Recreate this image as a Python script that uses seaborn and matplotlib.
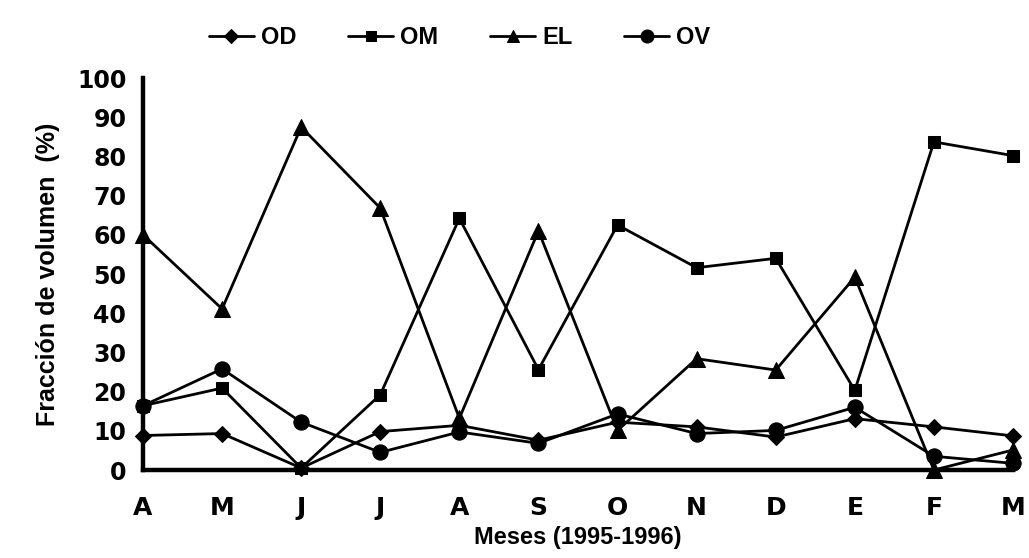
import matplotlib
matplotlib.use("Agg")
import matplotlib.pyplot as plt
import numpy as np
import pandas as pd
import seaborn as sns

months = ["A", "M", "J", "J", "A", "S", "O", "N", "D", "E", "F", "M"]
od = [8.8, 9.3, 0.5, 9.8, 11.4, 7.6, 12.2, 11.0, 8.4, 13.1, 11.0, 8.7]
om = [16.4, 20.9, 0.5, 19.2, 64.2, 25.6, 62.5, 51.6, 54.0, 20.3, 83.7, 80.2]
el = [60.0, 41.1, 87.5, 66.8, 13.2, 61.0, 10.1, 28.4, 25.5, 49.2, 0.0, 5.1]
ov = [16.4, 25.8, 12.2, 4.5, 9.7, 6.8, 14.3, 9.3, 10.1, 16.0, 3.5, 1.7]
series_names = ["OD", "OM", "EL", "OV"]
y_ticks = list(range(0, 101, 10))

sns.set_theme(style="white")
plt.rcParams['font.family'] = ['Liberation Sans', 'DejaVu Sans']
plt.rcParams['font.weight'] = 'bold'
plt.rcParams['text.color'] = 'black'
plt.rcParams['axes.labelcolor'] = 'black'

idx = np.arange(len(months))
df = pd.DataFrame({"x": np.tile(idx, 4),
                   "v": od + om + el + ov,
                   "serie": np.repeat(series_names, len(months))})

fig = plt.figure(figsize=(10.29, 5.58), dpi=100)
ax = fig.add_axes([143 / 1029, 1 - 470 / 558, 870 / 1029, 392 / 558])

markers = {"OD": "D", "OM": "s", "EL": "^", "OV": "o"}
msizes = {"OD": 8, "OM": 9, "EL": 11, "OV": 11}
for name in series_names:
    sub = df[df["serie"] == name]
    sns.lineplot(data=sub, x="x", y="v", ax=ax, color="black", lw=2.0,
                 marker=markers[name], markersize=msizes[name],
                 markeredgecolor="black", markerfacecolor="black",
                 label=name, clip_on=False, zorder=3)

ax.set_xlim(0, len(months) - 1)
ax.set_ylim(0, 100)
ax.set_xticks(idx)
ax.set_xticklabels(months)
ax.set_yticks(y_ticks)
ax.set_yticklabels([str(t) for t in y_ticks])
for s in ["top", "right"]:
    ax.spines[s].set_visible(False)
for s in ["left", "bottom"]:
    ax.spines[s].set_linewidth(3.2)
    ax.spines[s].set_color("black")
ax.tick_params(axis="both", direction="out", length=7, width=2.5, color="black",
               labelcolor="black")
ax.tick_params(axis="y", pad=5)
ax.tick_params(axis="x", pad=12)
for lab in ax.get_yticklabels():
    lab.set_fontproperties({"family": "DejaVu Sans", "weight": "bold", "size": 17})
for lab in ax.get_xticklabels():
    lab.set_fontproperties({"family": "DejaVu Sans", "weight": "bold", "size": 18})

ax.set_xlabel("Meses (1995-1996)", fontsize=17, fontweight="bold", color="black",
              labelpad=4)
ax.set_ylabel("Fracción de volumen  (%)", fontsize=18, fontweight="bold",
              color="black", labelpad=12)

leg = ax.legend(ncol=4, loc="lower center", bbox_to_anchor=(0.364, 1.02), frameon=False,
                prop={"weight": "bold", "size": 17}, handlelength=1.9, columnspacing=2.2,
                handletextpad=0.3, markerscale=0.85)
for t in leg.get_texts():
    t.set_color("black")

fig.savefig("out.png", dpi=100)
